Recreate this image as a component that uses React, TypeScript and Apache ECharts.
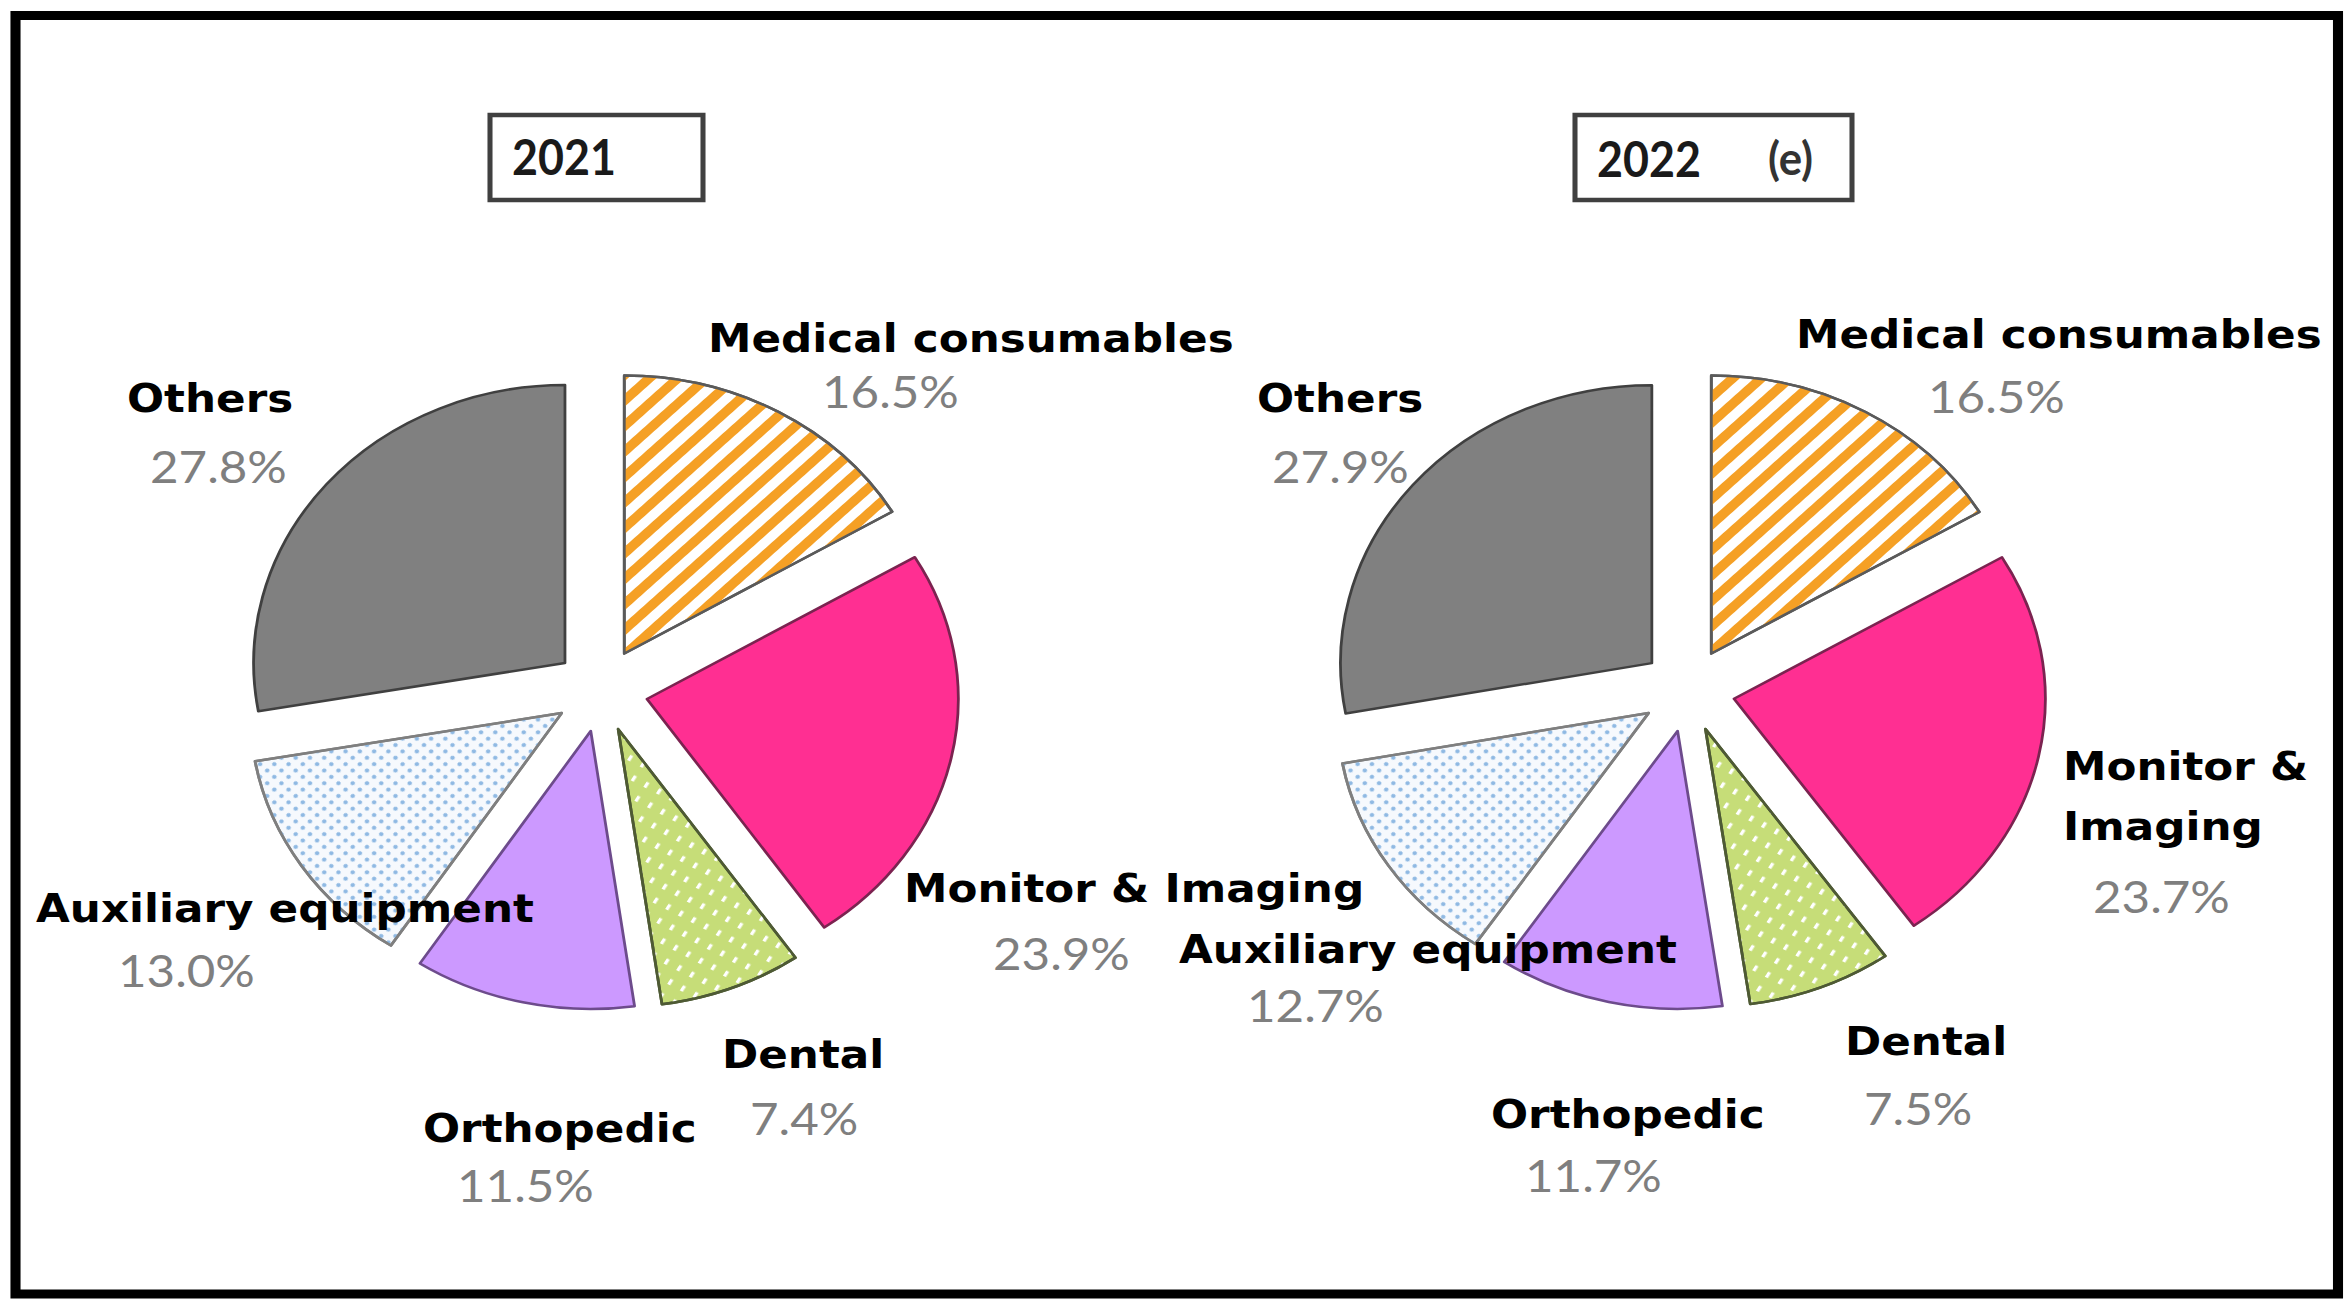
import React, { useEffect, useRef } from 'react';
import * as echarts from 'echarts';

// ---------- data ----------
const categories = ['Medical consumables', 'Monitor & Imaging', 'Dental', 'Orthopedic', 'Auxiliary equipment', 'Others'];
const values2021 = [16.5, 23.9, 7.4, 11.5, 13.0, 27.8];
const values2022 = [16.5, 23.7, 7.5, 11.7, 12.7, 27.9];
const yearTitles = ['2021', '2022'];
const yearNotes = ['', '(e)'];

// ---------- layout (image coordinates) ----------
const SX = 1.12; // horizontal stretch of the whole picture
const W = 2350 / SX;
const H = 1299;
const CY = 690;
const R = 278;
const OFFSET = 42;
const CENTERS_X = [601, 1688];

const NAME_FONT = 39;
const PCT_FONT = 44;
const NAME_C = 0.346 * NAME_FONT;
const PCT_C = 0.387 * PCT_FONT;

type Lay = { nameX: number[]; nameBase: number[]; pctX: number[]; pctBase: number[]; nameLines: number[]; nameLH: number[] };

const lay2021: Lay = {
  nameX: [708, 904, 722, 423, 36, 127],
  nameBase: [352, 902, 1068, 1142, 922, 412],
  pctX: [822, 993, 750, 457, 118, 150],
  pctBase: [408, 970, 1135, 1202, 987, 483],
  nameLines: [1, 1, 1, 1, 1, 1],
  nameLH: [0, 0, 0, 0, 0, 0],
};
const lay2022: Lay = {
  nameX: [1796, 2063, 1845, 1491, 1179, 1257],
  nameBase: [348, 780, 1055, 1128, 963, 412],
  pctX: [1928, 2093, 1864, 1525, 1247, 1272],
  pctBase: [413, 913, 1125, 1192, 1022, 483],
  nameLines: [1, 2, 1, 1, 1, 1],
  nameLH: [0, 60, 0, 0, 0, 0],
};

const sliceStyles: any[] = [
  {
    color: '#ffffff', borderColor: '#5a5a5a', borderWidth: 2.5,
    decal: { symbol: 'rect', dashArrayX: [1, 0], dashArrayY: [9, 9], rotation: -Math.PI / 4, color: '#f5a025' },
  },
  { color: '#ff2f92', borderColor: '#7b2350', borderWidth: 2.5 },
  {
    color: '#c6dd78', borderColor: '#4e5a34', borderWidth: 2.5,
    decal: { symbol: 'rect', dashArrayX: [6, 10], dashArrayY: [2.5, 10], rotation: -Math.PI / 3, color: '#ffffff' },
  },
  { color: '#cc99ff', borderColor: '#6d4b8c', borderWidth: 2.5 },
  {
    color: '#f6f9fd', borderColor: '#7f7f7f', borderWidth: 2.5,
    decal: { symbol: 'circle', symbolSize: 1, dashArrayX: [4, 5], dashArrayY: [4, 5], rotation: Math.PI / 4, color: '#8fb9e3' },
  },
  { color: '#808080', borderColor: '#404040', borderWidth: 2.5 },
];

function wrapName(name: string, lines: number): string[] {
  if (lines < 2) return [name];
  const k = name.lastIndexOf(' ');
  return [name.slice(0, k), name.slice(k + 1)];
}

function makeSeries(values: number[], cxImg: number) {
  return {
    type: 'pie',
    z: 2,
    center: [cxImg / SX, CY],
    radius: R,
    startAngle: 90,
    clockwise: true,
    selectedMode: 'multiple',
    selectedOffset: OFFSET,
    silent: true,
    emphasis: { disabled: true },
    label: { show: false },
    labelLine: { show: false },
    data: categories.map((name, i) => ({
      name,
      value: values[i],
      selected: true,
      itemStyle: sliceStyles[i],
      select: { itemStyle: sliceStyles[i] },
    })),
  };
}

function labelTexts(values: number[], lay: Lay) {
  const els: any[] = [];
  categories.forEach((name, i) => {
    wrapName(name, lay.nameLines[i]).forEach((line, k) => {
      els.push({
        type: 'text',
        z: 100,
        x: lay.nameX[i] / SX,
        y: lay.nameBase[i] + k * lay.nameLH[i] - NAME_C,
        silent: true,
        style: {
          text: line, fontFamily: 'DejaVu Sans', fontWeight: 'bold', fontSize: NAME_FONT,
          fill: '#000000', align: 'left', verticalAlign: 'middle',
        },
      });
    });
    els.push({
      type: 'text',
      z: 100,
      x: lay.pctX[i] / SX,
      y: lay.pctBase[i] - PCT_C,
      silent: true,
      style: {
        text: values[i].toFixed(1) + '%', fontFamily: 'Lato', fontSize: PCT_FONT,
        fill: '#7f7f7f', align: 'left', verticalAlign: 'middle',
      },
    });
  });
  return els;
}

// title boxes (image coords)
const titleBoxes = [
  { x0: 490, x1: 703, y0: 115, y1: 200, textX: 512, noteX: 0, base: 175 },
  { x0: 1575, x1: 1852, y0: 115, y1: 200, textX: 1597, noteX: 1768, base: 177 },
];
const TITLE_FONT = 50;
const TITLE_C = 0.387 * TITLE_FONT;

function buildGraphic() {
  const els: any[] = [
    {
      type: 'rect',
      z: 100,
      shape: { x: 15.5 / SX, y: 15.5, width: (2338 - 15.5) / SX, height: 1294 - 15.5 },
      style: { fill: 'none', stroke: '#000000', lineWidth: 9 },
      silent: true,
    },
  ];
  titleBoxes.forEach((b, i) => {
    els.push({
      type: 'rect',
      z: 100,
      shape: { x: b.x0 / SX, y: b.y0, width: (b.x1 - b.x0) / SX, height: b.y1 - b.y0 },
      style: { fill: '#ffffff', stroke: '#404040', lineWidth: 4.5 },
      silent: true,
    });
    els.push({
      type: 'text',
      z: 101,
      x: b.textX / SX,
      y: b.base - TITLE_C,
      scaleX: 0.8,
      silent: true,
      style: {
        text: yearTitles[i], fontSize: TITLE_FONT, fontWeight: 'bold', fontFamily: 'Lato',
        fill: '#1a1a1a', align: 'left', verticalAlign: 'middle',
      },
    });
    if (yearNotes[i]) {
      els.push({
        type: 'text',
        z: 101,
        x: b.noteX / SX,
        y: b.base - TITLE_C,
        scaleX: 0.85,
        silent: true,
        style: {
          text: yearNotes[i], fontSize: 46, fontWeight: 'bold', fontFamily: 'Lato',
          fill: '#333333', align: 'left', verticalAlign: 'middle',
        },
      });
    }
  });
  return els.concat(labelTexts(values2021, lay2021), labelTexts(values2022, lay2022));
}

export default function App() {
  const ref = useRef<HTMLDivElement>(null);
  useEffect(() => {
    if (!ref.current) return;
    const chart = echarts.init(ref.current, null, { renderer: 'svg' });
    chart.setOption({
      animation: false,
      backgroundColor: '#ffffff',
      series: [makeSeries(values2021, CENTERS_X[0]), makeSeries(values2022, CENTERS_X[1])],
      graphic: buildGraphic(),
    });
    return () => chart.dispose();
  }, []);
  return (
    <div
      ref={ref}
      style={{
        position: 'fixed', left: 0, top: 0, width: W, height: H,
        transform: `scaleX(${SX})`, transformOrigin: '0 0', background: '#ffffff',
      }}
    />
  );
}
